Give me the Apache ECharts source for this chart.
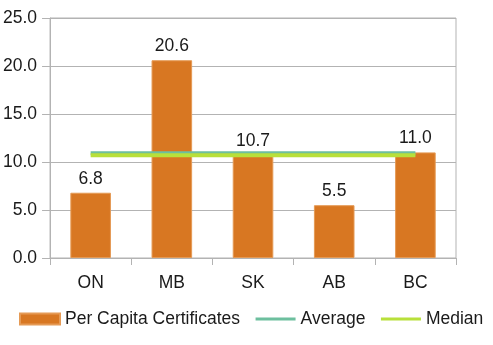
<!DOCTYPE html>
<html><head><meta charset="utf-8">
<script src="https://cdn.jsdelivr.net/npm/echarts@6/dist/echarts.min.js"></script>
<style>html,body{margin:0;padding:0;background:#fff}#c{width:493px;height:345px}</style>
</head><body><div id="c"></div>
<script>
const categories = ['ON', 'MB', 'SK', 'AB', 'BC'];
const perCapita = [6.8, 20.6, 10.7, 5.5, 11.0];
const average = [10.92, 10.92, 10.92, 10.92, 10.92];
const median = [10.7, 10.7, 10.7, 10.7, 10.7];
const yTicks = { min: 0, max: 25, interval: 5 };

const font = 'Liberation Sans';
const fs = 17.5;
const txt = '#1a1a1a';
const gridC = '#b3b3b3';
const chart = echarts.init(document.getElementById('c'), null, { renderer: 'canvas' });
chart.setOption({
  animation: false,
  textStyle: { fontFamily: font },
  grid: { left: 50, right: 37, top: 18, bottom: 87, show: true, borderColor: gridC, borderWidth: 1, containLabel: false },
  legend: {
    left: 19, top: 310, padding: 0, itemWidth: 40, itemHeight: 11, itemGap: 14,
    textStyle: { fontFamily: font, fontSize: fs, color: txt },
    data: [
      { name: 'Per Capita Certificates', icon: 'rect' },
      { name: 'Average', itemStyle: { color: 'rgba(0,0,0,0)', borderWidth: 0, opacity: 0 }, lineStyle: { width: 3 } },
      { name: 'Median', itemStyle: { color: 'rgba(0,0,0,0)', borderWidth: 0, opacity: 0 }, lineStyle: { width: 3 } }
    ]
  },
  xAxis: {
    type: 'category', data: categories,
    axisLine: { lineStyle: { color: gridC } },
    axisTick: { show: true, length: 7, lineStyle: { color: gridC } },
    axisLabel: { color: txt, fontSize: fs, fontFamily: font, margin: 16 }
  },
  yAxis: {
    type: 'value', min: yTicks.min, max: yTicks.max, interval: yTicks.interval,
    axisLine: { show: true, lineStyle: { color: gridC } },
    axisTick: { show: true, length: 8, lineStyle: { color: gridC } },
    splitLine: { lineStyle: { color: gridC } },
    axisLabel: { color: txt, fontSize: fs, fontFamily: font, margin: 13, formatter: v => v.toFixed(1) }
  },
  series: [
    {
      name: 'Per Capita Certificates', type: 'bar', data: perCapita, barWidth: '50%',
      itemStyle: { color: '#d87722', borderColor: '#e59a55', borderWidth: 1 },
      label: { show: true, position: 'top', distance: 5, color: txt, fontSize: fs, fontFamily: font, formatter: p => p.value.toFixed(1) }
    },
    {
      name: 'Average', type: 'line', data: average, symbol: 'none',
      lineStyle: { color: '#6dbf9e', width: 4 }, itemStyle: { color: '#6dbf9e' }
    },
    {
      name: 'Median', type: 'line', data: median, symbol: 'none',
      lineStyle: { color: '#b8e03a', width: 4 }, itemStyle: { color: '#b8e03a' }
    }
  ]
});
</script></body></html>
